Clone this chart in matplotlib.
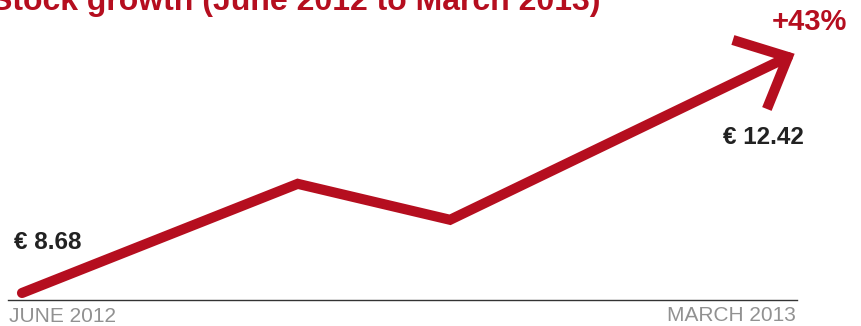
import matplotlib
matplotlib.use('Agg')
import matplotlib.pyplot as plt
from matplotlib.transforms import IdentityTransform

plt.rcParams['font.family'] = ['Liberation Sans', 'DejaVu Sans']

# data (months since June 2012, share price in EUR)
months = [0, 3.24, 5.03, 9]
prices = [8.68, 10.41, 9.84, 12.42]
start_label = 'JUNE 2012'
end_label = 'MARCH 2013'
title = 'Stock growth (June 2012 to March 2013)'
growth = '+43%'

RED = '#b50e1f'
W, H = 862, 326


def px(x, y):
    # pixel position -> figure fraction
    return x / W, 1 - y / H


fig = plt.figure(figsize=(W / 100, H / 100), dpi=100)
ax = fig.add_axes([0, 0, 1, 1])
ax.axis('off')
ax.set_xlim(-0.2585, 9.871)
ax.set_ylim(8.157, 13.323)

# baseline
ax.axhline(8.569, xmin=8 / W, xmax=797 / W, color='#333333', lw=1)

# main line
ax.plot(months, prices, color=RED, lw=7.3, solid_capstyle='round',
        solid_joinstyle='miter')

# arrowhead at last point
tx, ty = ax.transData.transform((months[-1], prices[-1]))
ax.plot([tx - 55, tx, tx - 21], [ty + 17, ty, ty - 52], color=RED, lw=7.3,
        solid_capstyle='butt', solid_joinstyle='miter',
        transform=IdentityTransform())

# texts
fig.text(*px(-9, 10), title, color=RED, fontsize=23, fontweight='bold',
         ha='left', va='baseline')
fig.text(*px(847, 30), growth, color=RED, fontsize=21, fontweight='bold',
         ha='right', va='baseline')
fig.text(*px(723, 144), '€ %.2f' % prices[-1], color='#222222', fontsize=17.5,
         fontweight='bold', ha='left', va='baseline')
fig.text(*px(14, 249), '€ %.2f' % prices[0], color='#222222', fontsize=17.5,
         fontweight='bold', ha='left', va='baseline')
fig.text(*px(9, 322), start_label, color='#919191', fontsize=15,
         ha='left', va='baseline')
fig.text(*px(796, 321), end_label, color='#919191', fontsize=15,
         ha='right', va='baseline')

fig.savefig('out.png', dpi=100)
